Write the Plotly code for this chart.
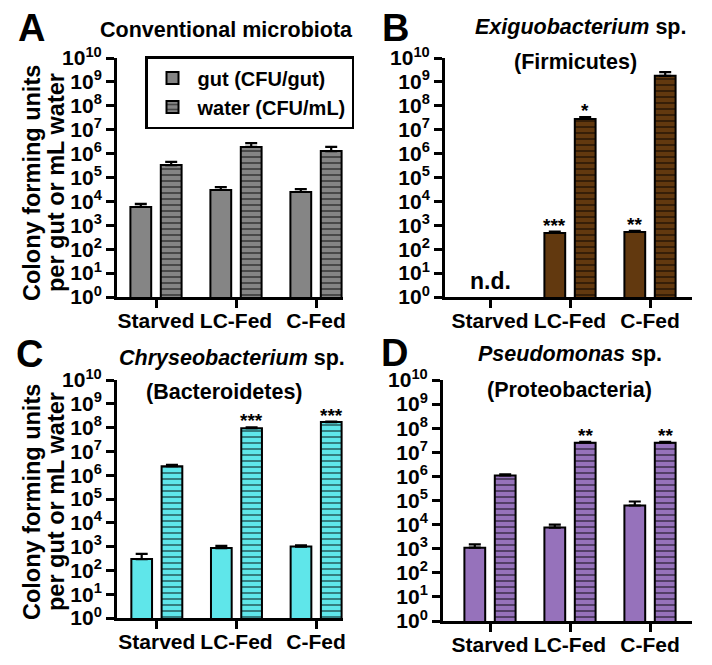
import math
import plotly.graph_objects as go

categories = ["Starved", "LC-Fed", "C-Fed"]
tick_vals = list(range(0, 11))
tick_text = ["10<sup>%d</sup>" % v for v in tick_vals]

# Panel A: Conventional microbiota
a_gut = [5900, 30000, 25000]
a_gut_err = [2000, 9800, 8100]
a_water = [3.3e5, 1.9e6, 1.27e6]
a_water_err = [1.2e5, 8.5e5, 6.3e5]
a_gut_sig = ["", "", ""]
a_water_sig = ["", "", ""]

# Panel B: Exiguobacterium sp. (Firmicutes); Starved not detected
b_gut = [None, 480, 525]
b_gut_err = [0, 60, 60]
b_water = [None, 2.8e7, 1.8e9]
b_water_err = [0, 6e6, 7.7e8]
b_gut_sig = ["", "***", "**"]
b_water_sig = ["", "*", ""]

# Panel C: Chryseobacterium sp. (Bacteroidetes)
c_gut = [300, 870, 1000]
c_gut_err = [190, 200, 120]
c_water = [2.4e6, 9.5e7, 1.7e8]
c_water_err = [3e5, 8e6, 1e7]
c_gut_sig = ["", "", ""]
c_water_sig = ["", "***", "***"]

# Panel D: Pseudomonas sp. (Proteobacteria)
d_gut = [1100, 7500, 6.2e4]
d_gut_err = [400, 2500, 2.9e4]
d_water = [1.1e6, 2.5e7, 2.5e7]
d_water_err = [1.2e5, 2e6, 2e6]
d_gut_sig = ["", "", ""]
d_water_sig = ["", "**", "**"]

series_names = ["gut (CFU/gut)", "water (CFU/mL)"]

W, H = 712, 665
FONT = "Liberation Sans"

def px(x):
    return x / W

def py(y):
    return 1 - y / H

panels = [
    ("", a_gut, a_gut_err, a_water, a_water_err, a_gut_sig, a_water_sig, "#858585",
     (117, 343), (58, 297), (-0.4875, 2.3375)),
    ("2", b_gut, b_gut_err, b_water, b_water_err, b_gut_sig, b_water_sig, "#62390f",
     (445, 692), (58, 297), (-0.5625, 2.525)),
    ("3", c_gut, c_gut_err, c_water, c_water_err, c_gut_sig, c_water_sig, "#5fe6ea",
     (117, 343), (380, 618), (-0.5, 2.3375)),
    ("4", d_gut, d_gut_err, d_water, d_water_err, d_gut_sig, d_water_sig, "#9672bb",
     (443, 692), (380, 621), (-0.5875, 2.525)),
]

BW = 0.26
GUT_OFF = -0.32
WATER_OFF = 0.06

fig = go.Figure()
annotations = []
layout = {}

for i, (k, gut, gerr, water, werr, gsig, wsig, color, xd, yd, xr) in enumerate(panels):
    xa = "x" + k
    ya = "y" + k
    showleg = (i == 0)
    fig.add_trace(go.Bar(
        x=categories, y=gut, name=series_names[0], xaxis=xa, yaxis=ya,
        width=BW, offset=GUT_OFF, showlegend=showleg,
        marker=dict(color=color, line=dict(color="black", width=2)),
        error_y=dict(type="data", symmetric=False, array=gerr,
                     arrayminus=[0] * len(gerr), color="black", thickness=2.2, width=6),
    ))
    fig.add_trace(go.Bar(
        x=categories, y=water, name=series_names[1], xaxis=xa, yaxis=ya,
        width=BW, offset=WATER_OFF, showlegend=showleg,
        marker=dict(color=color, line=dict(color="black", width=2),
                    pattern=dict(shape="-", fgcolor="black", bgcolor=color,
                                 size=6, solidity=0.3)),
        error_y=dict(type="data", symmetric=False, array=werr,
                     arrayminus=[0] * len(werr), color="black", thickness=2.2, width=6),
    ))
    axis_x = dict(domain=[px(xd[0]), px(xd[1])], range=list(xr), anchor=ya,
                  type="category", showline=True, linecolor="black", linewidth=3,
                  ticks="outside", ticklen=8, tickwidth=3, tickcolor="black",
                  showgrid=False, zeroline=False, automargin=False,
                  ticklabelstandoff=-5,
                  tickfont=dict(family=FONT, size=21, color="black", weight="bold"))
    axis_y = dict(domain=[py(yd[1]), py(yd[0])], type="log", range=[0, 10], anchor=xa,
                  tickvals=[10 ** v for v in tick_vals], ticktext=tick_text,
                  showline=True, linecolor="black", linewidth=3,
                  ticks="outside", ticklen=8, tickwidth=3, tickcolor="black",
                  showgrid=False, zeroline=False, automargin=False,
                  tickfont=dict(family=FONT, size=21, color="black", weight="bold"))
    layout["xaxis" + k] = axis_x
    layout["yaxis" + k] = axis_y

    for j, cat in enumerate(categories):
        for vals, errs, sig, off in ((gut, gerr, gsig, GUT_OFF), (water, werr, wsig, WATER_OFF)):
            if sig[j] and vals[j] is not None:
                top = math.log10(vals[j] + errs[j])
                annotations.append(dict(
                    x=j + off + BW / 2, y=top, xref=xa, yref=ya, text=sig[j],
                    showarrow=False, yanchor="bottom", yshift=-6,
                    font=dict(family=FONT, size=19, color="black", weight="bold")))

annotations.append(dict(x=0, y=0.65, xref="x2", yref="y2", text="n.d.", showarrow=False,
                        font=dict(family=FONT, size=23, color="black", weight="bold")))

def txt(x, y, text, size, **kw):
    annotations.append(dict(x=px(x), y=py(y), xref="paper", yref="paper", text=text,
                            showarrow=False, xanchor="center", yanchor="middle",
                            font=dict(family=FONT, size=size, color="black", weight="bold"), **kw))

txt(31, 28, "A", 38)
txt(395, 28, "B", 38)
txt(29, 354, "C", 38)
txt(394, 353, "D", 38)

txt(227, 30, "Conventional microbiota", 21.5)
txt(580, 27, "<i>Exiguobacterium</i> sp.", 21.5)
txt(575, 62, "(Firmicutes)", 21.5)
txt(232, 358, "<i>Chryseobacterium</i> sp.", 21.5)
txt(224, 392, "(Bacteroidetes)", 21.5)
txt(570, 354, "<i>Pseudomonas</i> sp.", 21.5)
txt(569, 390, "(Proteobacteria)", 21.5)

for yc in (183, 502):
    txt(32, yc, "Colony forming units", 23.5, textangle=-90)
    txt(56, yc, "per gut or mL water", 23.5, textangle=-90)

fig.update_layout(
    width=W, height=H, margin=dict(l=0, r=0, t=0, b=0, autoexpand=False),
    paper_bgcolor="white", plot_bgcolor="white",
    barmode="overlay",
    annotations=annotations,
    legend=dict(x=px(145), y=py(56), xanchor="left", yanchor="top",
                bordercolor="black", borderwidth=2.5, bgcolor="white",
                font=dict(family=FONT, size=20, color="black", weight="bold"),
                itemwidth=40, tracegroupgap=0),
    **layout,
)

fig.write_html("out.html", config={"displayModeBar": False},
               post_script="document.body.style.margin='0';")
